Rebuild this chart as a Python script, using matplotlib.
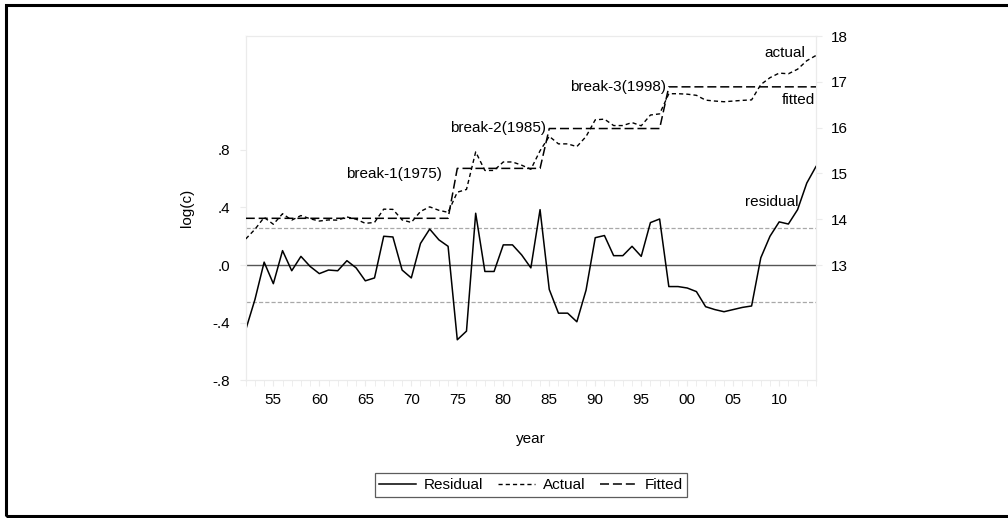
"""plot.py - residual / actual / fitted chart for log(c) with three breaks."""

import matplotlib
matplotlib.use("Agg")
import matplotlib.pyplot as plt
from matplotlib.patches import Rectangle
from matplotlib.ticker import FixedLocator, MultipleLocator

import numpy as np

plt.rcParams["font.family"] = ["Liberation Sans", "DejaVu Sans"]
plt.rcParams["lines.scale_dashes"] = False

# --- data ---
years = np.arange(1952, 2015)

residual = [
    -0.45, -0.24, 0.02, -0.13, 0.10, -0.04, 0.06, -0.01, -0.06, -0.035,
    -0.04, 0.03, -0.02, -0.11, -0.09, 0.20, 0.195, -0.035, -0.09, 0.15,
    0.25, 0.175, 0.13, -0.52, -0.46, 0.36, -0.045, -0.045, 0.14, 0.14,
    0.07, -0.02, 0.385, -0.17, -0.335, -0.335, -0.395, -0.175, 0.19, 0.205,
    0.065, 0.065, 0.13, 0.06, 0.295, 0.32, -0.15, -0.15, -0.16, -0.185,
    -0.29, -0.31, -0.325, -0.31, -0.295, -0.285, 0.05, 0.20, 0.30, 0.285,
    0.385, 0.57, 0.685,
]

actual = [
    13.57, 13.78, 14.04, 13.89, 14.12, 13.98, 14.08, 14.01, 13.96, 13.985,
    13.98, 14.05, 14.00, 13.91, 13.93, 14.22, 14.215, 13.985, 13.93, 14.17,
    14.27, 14.195, 14.15, 14.59, 14.65, 15.47, 15.065, 15.065, 15.25, 15.25,
    15.18, 15.09, 15.495, 15.81, 15.645, 15.645, 15.585, 15.805, 16.17, 16.185,
    16.045, 16.045, 16.11, 16.04, 16.275, 16.30, 16.74, 16.74, 16.73, 16.705,
    16.60, 16.58, 16.565, 16.58, 16.595, 16.605, 16.94, 17.09, 17.19, 17.175,
    17.275, 17.46, 17.575,
]

fitted = [
    # 1952-1974
    14.02, 14.02, 14.02, 14.02, 14.02, 14.02, 14.02, 14.02, 14.02, 14.02,
    14.02, 14.02, 14.02, 14.02, 14.02, 14.02, 14.02, 14.02, 14.02, 14.02,
    14.02, 14.02, 14.02,
    # 1975-1984
    15.11, 15.11, 15.11, 15.11, 15.11, 15.11, 15.11, 15.11, 15.11, 15.11,
    # 1985-1997
    15.98, 15.98, 15.98, 15.98, 15.98, 15.98, 15.98, 15.98, 15.98, 15.98,
    15.98, 15.98, 15.98,
    # 1998-2014
    16.89, 16.89, 16.89, 16.89, 16.89, 16.89, 16.89, 16.89, 16.89, 16.89,
    16.89, 16.89, 16.89, 16.89, 16.89, 16.89, 16.89,
]

resid_se = 0.26

left_ticks = [-0.8, -0.4, 0.0, 0.4, 0.8]
left_labels = ["-.8", "-.4", ".0", ".4", ".8"]
right_ticks = [13, 14, 15, 16, 17, 18]
year_ticks = [1955, 1960, 1965, 1970, 1975, 1980, 1985, 1990, 1995, 2000, 2005, 2010]
year_labels = ["55", "60", "65", "70", "75", "80", "85", "90", "95", "00", "05", "10"]

FS = 11

# --- figure ---
fig = plt.figure(figsize=(10.08, 5.18), dpi=100)
ax = fig.add_axes([0.2438, 0.2664, 0.5657, 0.6641])
ax2 = ax.twinx()

frame_col = "#ebebeb"
for a in (ax, ax2):
    for sp in a.spines.values():
        sp.set_color(frame_col)
        sp.set_linewidth(0.8)

# residual on the left axis
ax.axhline(0.0, color="#555555", lw=1.0, zorder=1)
ax.axhline(resid_se, color="#a8a8a8", lw=0.9, dashes=(3, 1.5), zorder=1)
ax.axhline(-resid_se, color="#a8a8a8", lw=0.9, dashes=(3, 1.5), zorder=1)
l_res, = ax.plot(years, residual, color="black", lw=1.1, label="Residual", zorder=3)

ax.set_xlim(1952, 2014)
ax.set_ylim(-0.8, 1.593)
ax.yaxis.set_major_locator(FixedLocator(left_ticks))
ax.set_yticklabels(left_labels)
ax.xaxis.set_major_locator(FixedLocator(year_ticks))
ax.set_xticklabels(year_labels)
ax.xaxis.set_minor_locator(MultipleLocator(1))
ax.tick_params(axis="both", which="both", colors=frame_col, labelcolor="black",
               labelsize=FS, direction="out")
ax.tick_params(axis="x", which="major", length=4, pad=5)
ax.tick_params(axis="x", which="minor", length=4)
ax.tick_params(axis="y", length=4, pad=7)

ax.set_ylabel("log(c)", fontsize=FS)
ax.yaxis.set_label_coords(-0.09, 0.5)
ax.set_xlabel("year", fontsize=FS)
ax.xaxis.set_label_coords(0.5, -0.15)

# actual and fitted on the right axis
l_act, = ax2.plot(years, actual, color="black", lw=1.0, dashes=(3, 2.2),
                  label="Actual", zorder=3)
l_fit, = ax2.plot(years, fitted, color="black", lw=1.1, dashes=(6.5, 2.8),
                  label="Fitted", zorder=3)
ax2.set_ylim(10.49, 18.0)
ax2.yaxis.set_major_locator(FixedLocator(right_ticks))
ax2.tick_params(axis="y", colors=frame_col, labelcolor="black", labelsize=FS,
                length=4, pad=7)

# annotations
txt = dict(fontsize=FS, va="center", ha="right")
ax2.text(1973.3, 14.98, "break-1(1975)", **txt)
ax2.text(1984.6, 16.0, "break-2(1985)", **txt)
ax2.text(1997.65, 16.89, "break-3(1998)", **txt)
ax2.text(2012.8, 17.62, "actual", **txt)
ax2.text(2013.9, 16.6, "fitted", **txt)
ax2.text(2012.1, 14.38, "residual", **txt)

# legend at the bottom
leg = fig.legend(handles=[l_res, l_act, l_fit], loc="center",
                 bbox_to_anchor=(531 / 1008, 1 - 485 / 518), ncol=3,
                 fontsize=FS, frameon=True, fancybox=False, handlelength=2.4,
                 handletextpad=0.5, columnspacing=1.0, borderpad=0.3)
leg.get_frame().set_edgecolor("#333333")
leg.get_frame().set_linewidth(0.9)

# outer border
fig.patches.append(Rectangle((6 / 1008, 2 / 518), 1.1, 1 - 7 / 518,
                             transform=fig.transFigure, fill=False,
                             edgecolor="black", lw=2.2))

fig.savefig("out.png", dpi=100)
plt.close(fig)
